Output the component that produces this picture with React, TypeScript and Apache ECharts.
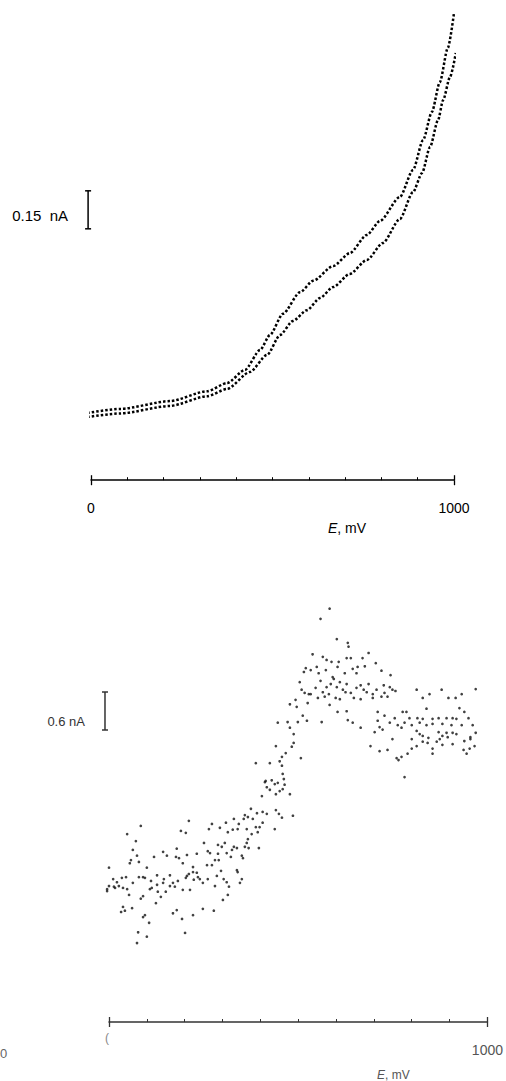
import React, { useEffect, useRef } from "react";
import * as echarts from "echarts";

// ---- Top panel: two scan branches (E in mV, current in nA relative to baseline) ----
const upperE = [-10, 80, 218, 320, 375, 424, 466, 493, 529, 576, 612, 667, 713, 760, 796, 851, 887, 915, 939, 961, 983, 1000];
const upperI = [0.008, 0.024, 0.055, 0.094, 0.126, 0.178, 0.257, 0.316, 0.4, 0.485, 0.53, 0.588, 0.639, 0.711, 0.766, 0.861, 0.967, 1.086, 1.196, 1.314, 1.449, 1.587];
const lowerE = [-10, 80, 218, 320, 375, 438, 485, 521, 556, 595, 631, 667, 713, 760, 804, 851, 887, 912, 934, 956, 970, 989, 1005];
const lowerI = [-0.008, 0.006, 0.036, 0.074, 0.103, 0.17, 0.237, 0.316, 0.371, 0.414, 0.462, 0.505, 0.557, 0.612, 0.679, 0.774, 0.88, 0.955, 1.058, 1.164, 1.243, 1.334, 1.429];

// ---- Bottom panel: noisy scan points [E mV, I nA] ----
const scanPoints: [number, number][] = [
  [583, 5.39], [559, 5.23], [602, 4.91], [631, 4.85], [633, 4.79], [538, 4.67], [565, 4.63], [575, 4.58], [588, 4.55], [607, 4.55],
  [628, 4.61], [639, 4.61], [670, 4.61], [686, 4.69], [705, 4.53], [520, 4.45], [533, 4.42], [549, 4.47], [573, 4.42], [604, 4.47],
  [644, 4.44], [657, 4.47], [676, 4.48], [720, 4.41], [515, 4.39], [554, 4.37], [623, 4.37], [654, 4.37], [744, 4.34], [591, 4.31],
  [559, 4.25], [594, 4.28], [610, 4.23], [628, 4.2], [504, 4.23], [586, 4.2], [665, 4.18], [686, 4.2], [726, 4.18], [742, 4.15],
  [546, 4.14], [575, 4.15], [602, 4.15], [618, 4.11], [654, 4.14], [673, 4.11], [707, 4.11], [749, 4.11], [509, 4.11], [517, 4.06],
  [528, 4.04], [533, 4.04], [565, 4.07], [581, 4.04], [625, 4.07], [639, 4.06], [681, 4.07], [697, 4.04], [728, 4.06], [757, 4.09],
  [813, 4.11], [879, 4.11], [969, 4.12], [847, 4.04], [897, 3.98], [916, 3.98], [932, 4.04], [552, 3.98], [570, 4.0], [599, 3.98],
  [610, 3.96], [647, 3.98], [665, 3.96], [697, 3.98], [720, 4.0], [736, 4.0], [829, 3.98], [493, 3.95], [525, 3.9], [478, 3.88],
  [496, 3.84], [583, 3.87], [604, 3.76], [628, 3.77], [926, 3.82], [839, 3.81], [710, 3.76], [776, 3.76], [786, 3.76], [939, 3.76],
  [512, 3.7], [728, 3.7], [755, 3.66], [794, 3.66], [815, 3.66], [829, 3.65], [855, 3.65], [871, 3.66], [892, 3.66], [908, 3.66],
  [918, 3.65], [950, 3.66], [446, 3.59], [472, 3.6], [499, 3.6], [523, 3.62], [562, 3.6], [631, 3.63], [644, 3.59], [710, 3.62],
  [742, 3.59], [763, 3.55], [781, 3.59], [800, 3.55], [821, 3.59], [839, 3.55], [855, 3.57], [881, 3.57], [905, 3.55], [932, 3.55],
  [961, 3.55], [478, 3.51], [665, 3.51], [715, 3.52], [702, 3.44], [723, 3.48], [773, 3.51], [813, 3.46], [871, 3.44], [892, 3.43],
  [908, 3.43], [969, 3.43], [488, 3.41], [821, 3.41], [829, 3.38], [881, 3.38], [918, 3.41], [955, 3.36], [749, 3.33], [800, 3.33],
  [844, 3.35], [895, 3.36], [874, 3.33], [488, 3.27], [829, 3.29], [866, 3.29], [939, 3.3], [955, 3.33], [441, 3.22], [483, 3.21],
  [691, 3.22], [842, 3.27], [813, 3.22], [881, 3.24], [908, 3.25], [966, 3.22], [715, 3.14], [736, 3.16], [800, 3.18], [855, 3.18],
  [937, 3.16], [953, 3.18], [467, 3.11], [855, 3.1], [945, 3.1], [789, 3.1], [457, 3.05], [507, 3.03], [760, 3.03], [773, 3.05],
  [765, 3.0], [388, 2.95], [425, 2.95], [451, 2.98], [457, 2.91], [459, 2.78], [462, 2.7], [781, 2.73], [414, 2.67], [430, 2.68],
  [438, 2.62], [446, 2.64], [464, 2.61], [459, 2.54], [417, 2.57], [412, 2.65], [425, 2.53], [451, 2.51], [441, 2.46], [478, 2.46],
  [404, 2.43], [375, 2.23], [359, 2.13], [367, 2.1], [391, 2.16], [406, 2.18], [417, 2.15], [441, 2.21], [449, 2.15], [457, 2.09],
  [486, 2.12], [356, 2.07], [380, 2.07], [406, 2.01], [330, 2.07], [309, 2.01], [343, 1.99], [388, 1.94], [398, 1.94], [438, 1.91],
  [272, 1.99], [264, 1.91], [293, 1.93], [327, 1.9], [340, 1.91], [364, 1.91], [377, 1.83], [393, 1.86], [314, 1.86], [190, 1.88],
  [203, 1.85], [211, 2.04], [84, 1.96], [48, 1.83], [71, 1.72], [367, 1.75], [251, 1.69], [288, 1.66], [298, 1.63], [306, 1.69],
  [364, 1.69], [369, 1.61], [359, 1.63], [396, 1.61], [325, 1.58], [330, 1.63], [338, 1.61], [63, 1.58], [143, 1.55], [179, 1.6],
  [261, 1.56], [267, 1.53], [288, 1.52], [311, 1.53], [232, 1.52], [206, 1.5], [74, 1.49], [153, 1.49], [119, 1.47], [177, 1.47],
  [185, 1.45], [322, 1.47], [351, 1.49], [354, 1.45], [58, 1.42], [79, 1.39], [55, 1.37], [195, 1.37], [280, 1.42], [290, 1.42],
  [259, 1.34], [272, 1.34], [100, 1.3], [0, 1.3], [222, 1.31], [296, 1.25], [338, 1.26], [340, 1.23], [79, 1.15], [90, 1.15],
  [95, 1.14], [127, 1.18], [161, 1.18], [206, 1.17], [211, 1.2], [222, 1.23], [232, 1.22], [235, 1.15], [285, 1.17], [303, 1.12],
  [11, 1.12], [21, 1.07], [34, 1.14], [45, 1.15], [0, 1.01], [13, 1.0], [26, 1.01], [37, 0.98], [48, 0.96], [63, 1.06],
  [111, 1.09], [145, 1.12], [143, 1.06], [169, 1.06], [182, 1.09], [203, 1.14], [224, 1.11], [240, 1.12], [248, 1.06], [261, 1.12],
  [311, 1.07], [351, 1.12], [346, 1.06], [-5, 0.93], [-5, 0.96], [16, 0.98], [108, 0.96], [113, 0.98], [127, 1.03], [161, 1.01],
  [174, 1.0], [129, 0.92], [150, 0.92], [195, 0.95], [214, 0.95], [280, 1.01], [317, 1.0], [53, 0.87], [90, 0.85], [137, 0.84],
  [84, 0.81], [314, 0.87], [301, 0.79], [124, 0.74], [37, 0.68], [61, 0.66], [32, 0.6], [42, 0.62], [179, 0.63], [169, 0.58],
  [248, 0.65], [277, 0.62], [95, 0.55], [90, 0.52], [193, 0.49], [222, 0.55], [106, 0.43], [77, 0.28], [100, 0.21], [201, 0.27],
  [74, 0.11],
];

// ---- Axes and scale bars ----
const axisMin = 0;
const axisMax = 1000;
const tickStep = 100;
const axisEndLabels = [0, 1000];
const topScaleBar = { E: -8, from: 0.735, size: 0.15, label: "0.15  nA" };
const bottomScaleBar = { E: -10.6, from: 3.474, size: 0.6, label: "0.6 nA" };

const FONT = "'Liberation Sans', Arial, Helvetica, sans-serif";

function zip(xs: number[], ys: number[]) {
  return xs.map((x, i) => [x, ys[i]]);
}

function mainAxis(gridIndex: number, offset: number, color: string, labelColor: string, labels: number[]) {
  return {
    gridIndex,
    type: "value",
    position: "bottom",
    min: axisMin,
    max: axisMax,
    interval: tickStep,
    offset,
    axisLine: { onZero: false, lineStyle: { color, width: 1.5 } },
    axisTick: { inside: true, length: 3, lineStyle: { color, width: 1 } },
    axisLabel: {
      margin: 21,
      fontSize: 14,
      color: labelColor,
      fontFamily: FONT,
      formatter: (v: number) => (labels.indexOf(v) >= 0 ? String(v) : ""),
    },
    splitLine: { show: false },
  };
}

function capAxis(gridIndex: number, offset: number, color: string, inside: boolean) {
  return {
    gridIndex,
    type: "value",
    position: "bottom",
    min: axisMin,
    max: axisMax,
    interval: axisMax - axisMin,
    offset,
    axisLine: { show: false, onZero: false },
    axisTick: { inside, length: 5, lineStyle: { color, width: 1.3 } },
    axisLabel: { show: false },
    splitLine: { show: false },
  };
}

export default function App() {
  const ref = useRef<HTMLDivElement>(null);

  useEffect(() => {
    const chart = echarts.init(ref.current!, null, { renderer: "svg" });
    const dots = { color: "#000", width: 2.5, type: [2.5, 2.0] };

    chart.setOption({
      animation: false,
      backgroundColor: "#ffffff",
      grid: [
        { left: 91, width: 363, top: 9.7, height: 420.5 },
        { left: 109, width: 379, top: 601.7, height: 348.3 },
      ],
      xAxis: [
        mainAxis(0, 50, "#000", "#000", axisEndLabels),
        capAxis(0, 50, "#000", true),
        capAxis(0, 50, "#000", false),
        mainAxis(1, 72, "#333", "#555", [1000]),
        capAxis(1, 72, "#333", true),
        capAxis(1, 72, "#333", false),
      ],
      yAxis: [
        { gridIndex: 0, type: "value", min: -0.06, max: 1.6, show: false, splitLine: { show: false } },
        { gridIndex: 1, type: "value", min: 0, max: 5.5, show: false, splitLine: { show: false } },
      ],
      series: [
        {
          type: "line",
          xAxisIndex: 0,
          yAxisIndex: 0,
          data: zip(upperE, upperI),
          smooth: 0.25,
          smoothMonotone: "x",
          symbol: "none",
          clip: false,
          lineStyle: dots,
        },
        {
          type: "line",
          xAxisIndex: 0,
          yAxisIndex: 0,
          data: zip(lowerE, lowerI),
          smooth: 0.25,
          smoothMonotone: "x",
          symbol: "none",
          clip: false,
          lineStyle: dots,
        },
        {
          type: "scatter",
          xAxisIndex: 3,
          yAxisIndex: 1,
          data: scanPoints,
          symbolSize: 2.7,
          clip: false,
          itemStyle: { color: "#111" },
        },
      ],
    });

    const bar = (axisIdx: number, yIdx: number, sb: { E: number; from: number; size: number; label: string }, color: string, fontSize: number, labelDy: number) => {
      const p0 = chart.convertToPixel({ xAxisIndex: axisIdx, yAxisIndex: yIdx }, [sb.E, sb.from]) as number[];
      const p1 = chart.convertToPixel({ xAxisIndex: axisIdx, yAxisIndex: yIdx }, [sb.E, sb.from + sb.size]) as number[];
      const x = p0[0];
      const st = { stroke: color, lineWidth: 1.5 };
      return [
        { type: "line", shape: { x1: x, y1: p0[1], x2: x, y2: p1[1] }, style: st },
        { type: "line", shape: { x1: x - 3, y1: p0[1], x2: x + 3, y2: p0[1] }, style: st },
        { type: "line", shape: { x1: x - 3, y1: p1[1], x2: x + 3, y2: p1[1] }, style: st },
        {
          type: "text",
          x: x - 20,
          y: (p0[1] + p1[1]) / 2 + labelDy,
          style: { text: sb.label, fill: color, font: `${fontSize}px ${FONT}`, align: "right", verticalAlign: "middle" },
        },
      ];
    };

    const labelText = (x: number, y: number, size: number, color: string) => ({
      type: "text",
      x,
      y,
      style: {
        text: "{i|E}, mV",
        fill: color,
        font: `${size}px ${FONT}`,
        verticalAlign: "middle",
        rich: { i: { fontStyle: "italic", fontSize: size, fontFamily: FONT, fill: color } },
      },
    });

    chart.setOption({
      graphic: [
        ...bar(0, 0, topScaleBar, "#000", 15, 6),
        ...bar(3, 1, bottomScaleBar, "#333", 13, 10),
        labelText(328, 528, 14, "#000"),
        labelText(377, 1075, 12, "#555"),
        { type: "text", x: 105, y: 1038, style: { text: "(", fill: "#888", font: `12px ${FONT}`, verticalAlign: "middle" } },
        { type: "text", x: 0, y: 1053, style: { text: "0", fill: "#666", font: `13px ${FONT}`, verticalAlign: "middle" } },
      ],
    });

    return () => chart.dispose();
  }, []);

  return <div ref={ref} style={{ position: "absolute", left: 0, top: 0, width: 506, height: 1081 }} />;
}
